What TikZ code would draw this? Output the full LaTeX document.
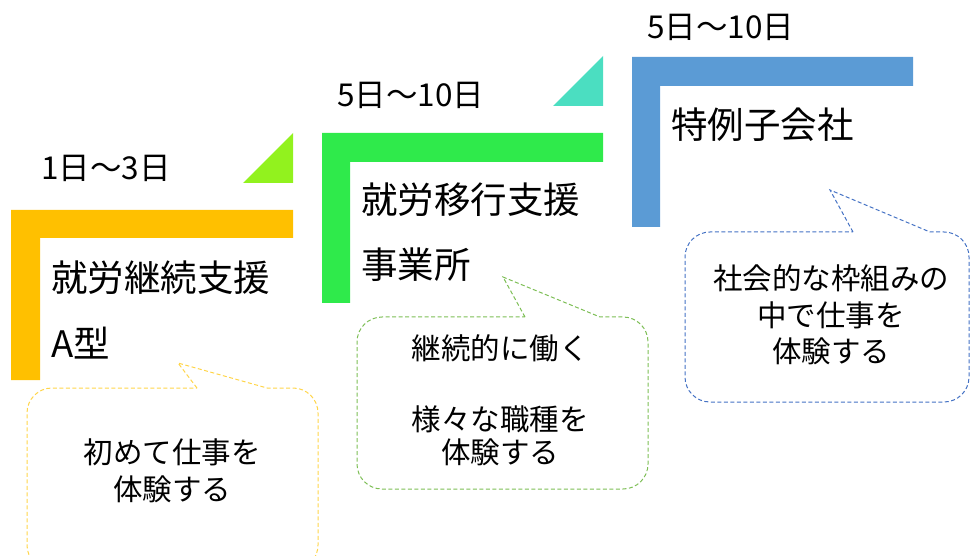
\documentclass[tikz,border=0pt]{standalone}
\usepackage{fontspec}
\setmainfont{Noto Sans CJK JP}
\definecolor{cOrange}{HTML}{FFC000}
\definecolor{cLime}{HTML}{92F21E}
\definecolor{cGreen}{HTML}{2FEA4B}
\definecolor{cTeal}{HTML}{4BDEC1}
\definecolor{cBlue}{HTML}{5B9BD5}
\definecolor{dOrange}{HTML}{FFD54A}
\definecolor{dGreen}{HTML}{7DBE55}
\definecolor{dBlue}{HTML}{4472C4}
\tikzset{
  datelabel/.style={anchor=west,inner sep=0pt,font=\fontsize{31.5}{36}\selectfont},
  mainlabel/.style={anchor=west,inner sep=0pt,font=\fontsize{36.5}{42}\selectfont},
  bubbletext/.style={inner sep=0pt,align=center,font=\fontsize{29.5}{36.5}\selectfont},
  bubble/.style={draw=#1,line width=1pt,dash pattern=on 4pt off 2.5pt},
}
% color L T R B tipx tipy base1 base2
\newcommand\mybubble[9]{%
  \draw[bubble=#1] (#8,#3) -- (#6,#7) -- (#9,#3) -- ({#4-25},#3)
    .. controls ({#4-11.2},#3) and (#4,{#3+11.2}) .. (#4,{#3+25})
    -- (#4,{#5-25})
    .. controls (#4,{#5-11.2}) and ({#4-11.2},#5) .. ({#4-25},#5)
    -- ({#2+25},#5)
    .. controls ({#2+11.2},#5) and (#2,{#5-11.2}) .. (#2,{#5-25})
    -- (#2,{#3+25})
    .. controls (#2,{#3+11.2}) and ({#2+11.2},#3) .. ({#2+25},#3)
    -- cycle;}
\begin{document}
\begin{tikzpicture}[x=1pt,y=-1pt]
\useasboundingbox (0,0) rectangle (970,556);
\clip (0,0) rectangle (970,556);
% L shapes
\fill[cOrange] (11,210) -- (293,210) -- (293,238) -- (40,238) -- (40,380) -- (11,380) -- cycle;
\fill[cGreen] (322,133) -- (603,133) -- (603,162) -- (350,162) -- (350,303) -- (322,303) -- cycle;
\fill[cBlue] (632,57) -- (913,57) -- (913,86) -- (660,86) -- (660,227) -- (632,227) -- cycle;
% triangles
\fill[cLime] (243,183) -- (293,183) -- (293,133) -- cycle;
\fill[cTeal] (553,106) -- (603,106) -- (603,56) -- cycle;
% dates
\node[datelabel] (d1) at (41,168) {1日～3日};
\node[datelabel] (d2) at (337,95) {5日～10日};
\node[datelabel] (d3) at (647,27) {5日～10日};
% main labels
\node[mainlabel] (m1a) at (51,278) {就労継続支援};
\node[mainlabel] (m1b) at (51,343) {A型};
\node[mainlabel] (m2a) at (361,200) {就労移行支援};
\node[mainlabel] (m2b) at (361,265) {事業所};
\node[mainlabel] (m3a) at (671,125) {特例子会社};
% bubbles
\mybubble{dOrange}{27}{388}{318}{570}{178}{363}{197}{267}
\mybubble{dGreen}{357}{317}{648}{489}{503}{277}{525}{600}
\mybubble{dBlue}{685}{232}{969}{402}{830}{190}{853}{930}
% bubble texts
\node[bubbletext] (t1) at (172,471) {初めて仕事を\\体験する};
\node[bubbletext] (t2a) at (500,348) {継続的に働く};
\node[bubbletext] (t2b) at (500,436) {様々な職種を\\[-3pt]体験する};
\node[bubbletext] (t3) at (831,315) {社会的な枠組みの\\中で仕事を\\体験する};
\end{tikzpicture}
\end{document}
